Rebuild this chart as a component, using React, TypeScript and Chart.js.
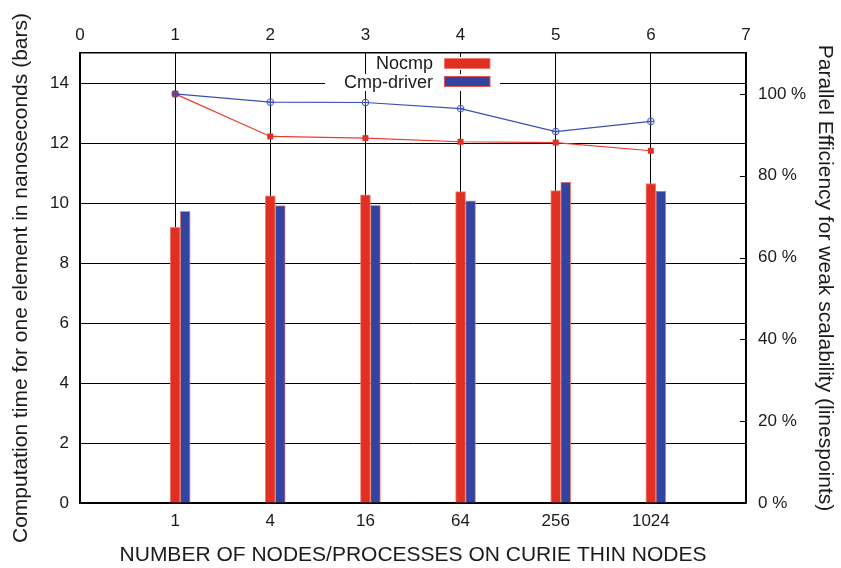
import React, { useEffect, useRef } from 'react';
import { Chart, registerables } from 'chart.js';

Chart.register(...registerables);

// ---- data ----
const categories = ['1', '4', '16', '64', '256', '1024'];
const nodeSlots = [1, 2, 3, 4, 5, 6];
const seriesNames = ['Nocmp', 'Cmp-driver'];
const nocmpTime = [9.19, 10.24, 10.27, 10.38, 10.41, 10.65];
const cmpDriverTime = [9.72, 9.91, 9.92, 10.07, 10.7, 10.4];
const nocmpEfficiency = [100, 89.6, 89.2, 88.3, 88.1, 86.1];
const cmpDriverEfficiency = [100, 98.0, 97.9, 96.4, 90.8, 93.3];

const FONT = "'Liberation Sans', Arial, Helvetica, sans-serif";
const RED = '#e03024';
const BLUE = '#3044a0';
const RED_LINE = '#ee3a2e';
const BLUE_LINE = '#3a4fb2';
const EDGE = 'rgba(240,120,110,0.9)';
const TXT = '#1a1a1a';

function makeCirclePlus(color: string) {
  const c = document.createElement('canvas');
  c.width = 9;
  c.height = 9;
  const g = c.getContext('2d')!;
  g.strokeStyle = color;
  g.lineWidth = 1;
  g.beginPath();
  g.arc(4.5, 4.5, 3.3, 0, Math.PI * 2);
  g.stroke();
  g.beginPath();
  g.moveTo(4.5, 1);
  g.lineTo(4.5, 8);
  g.moveTo(1, 4.5);
  g.lineTo(8, 4.5);
  g.stroke();
  return c;
}

const legendPlugin = {
  id: 'gnuKey',
  afterDraw(chart: any) {
    const ctx = chart.ctx;
    const { right } = chart.chartArea;
    ctx.save();
    // inward ticks on right axis
    ctx.strokeStyle = '#000';
    ctx.lineWidth = 1;
    const y2 = chart.scales.y2;
    for (let v = 0; v <= 100; v += 20) {
      const py = Math.round(y2.getPixelForValue(v)) + 0.5;
      ctx.beginPath();
      ctx.moveTo(right - 6, py);
      ctx.lineTo(right, py);
      ctx.stroke();
    }
    // key masks
    ctx.fillStyle = '#fff';
    ctx.fillRect(374, 57, 121, 13);
    ctx.fillRect(325, 74, 175, 17);
    // key text
    ctx.fillStyle = TXT;
    ctx.font = `18px ${FONT}`;
    ctx.textAlign = 'right';
    ctx.textBaseline = 'middle';
    ctx.fillText(seriesNames[0], 433, 64);
    ctx.fillText(seriesNames[1], 433, 83);
    // swatches
    ctx.fillStyle = RED;
    ctx.fillRect(444.5, 58.5, 45.5, 10);
    ctx.strokeStyle = EDGE;
    ctx.strokeRect(444.5, 58.5, 45.5, 10);
    ctx.fillStyle = BLUE;
    ctx.fillRect(444.5, 76.5, 45.5, 10);
    ctx.strokeStyle = '#e05050';
    ctx.strokeRect(444.5, 76.5, 45.5, 10);
    ctx.restore();
  },
};

export default function App() {
  const ref = useRef<HTMLCanvasElement | null>(null);

  useEffect(() => {
    if (!ref.current) return;
    const tickFont = { family: FONT, size: 17 };
    const titleFont = { family: FONT, size: 21 };
    const chart = new Chart(ref.current, {
      type: 'bar',
      data: {
        datasets: [
          {
            type: 'line',
            label: seriesNames[1] + ' eff',
            data: nodeSlots.map((x, i) => ({ x, y: cmpDriverEfficiency[i] })),
            xAxisID: 'x',
            yAxisID: 'y2',
            borderColor: BLUE_LINE,
            borderWidth: 1.2,
            pointStyle: makeCirclePlus(BLUE_LINE) as any,
            pointRadius: 4,
            tension: 0,
            fill: false,
            order: 0,
          } as any,
          {
            type: 'line',
            label: seriesNames[0] + ' eff',
            data: nodeSlots.map((x, i) => ({ x, y: nocmpEfficiency[i] })),
            xAxisID: 'x',
            yAxisID: 'y2',
            borderColor: RED_LINE,
            borderWidth: 1.2,
            pointStyle: 'rect',
            pointRadius: 4.2,
            pointBorderWidth: 0,
            pointBackgroundColor: RED,
            tension: 0,
            fill: false,
            order: 1,
          } as any,
          {
            type: 'bar',
            label: seriesNames[0],
            data: nodeSlots.map((x, i) => ({ x, y: nocmpTime[i] })),
            xAxisID: 'xb',
            yAxisID: 'y',
            backgroundColor: RED,
            borderColor: EDGE,
            borderWidth: 1,
            barThickness: 10,
            order: 2,
          } as any,
          {
            type: 'bar',
            label: seriesNames[1],
            data: nodeSlots.map((x, i) => ({ x, y: cmpDriverTime[i] })),
            xAxisID: 'xb',
            yAxisID: 'y',
            backgroundColor: BLUE,
            borderColor: EDGE,
            borderWidth: 1,
            barThickness: 10,
            order: 3,
          } as any,
        ],
      },
      options: {
        animation: false,
        responsive: true,
        maintainAspectRatio: false,
        layout: { padding: 0 },
        plugins: {
          legend: { display: false },
          tooltip: { enabled: false },
          title: { display: false },
        },
        scales: {
          x: {
            type: 'linear',
            position: 'bottom',
            min: 0,
            max: 7,
            offset: false,
            ticks: {
              stepSize: 1,
              autoSkip: false,
              maxRotation: 0,
              padding: 8,
              font: tickFont,
              color: TXT,
              callback: (v: any) => {
                const i = nodeSlots.indexOf(Number(v));
                return i >= 0 ? categories[i] : '';
              },
            },
            grid: { color: '#000', lineWidth: 1, drawTicks: false, offset: false },
            border: { color: '#000', width: 1.5 },
            title: {
              display: true,
              text: 'NUMBER OF NODES/PROCESSES ON CURIE THIN NODES',
              font: titleFont,
              color: TXT,
              padding: { top: 5, bottom: 0 },
            },
            afterFit: (s: any) => {
              s.height = 65;
            },
          },
          x2: {
            type: 'linear',
            position: 'top',
            min: 0,
            max: 7,
            offset: false,
            ticks: { stepSize: 1, padding: 7, font: tickFont, color: TXT, maxRotation: 0 },
            grid: { drawOnChartArea: false, drawTicks: false, offset: false },
            border: { color: '#000', width: 1.5 },
            afterFit: (s: any) => {
              s.height = 53;
            },
          },
          xb: {
            type: 'linear',
            display: false,
            min: -0.0526,
            max: 6.9474,
            offset: false,
            ticks: { stepSize: 1, includeBounds: false },
            grid: { offset: false },
          },
          y: {
            type: 'linear',
            position: 'left',
            min: 0,
            max: 15,
            ticks: { stepSize: 2, includeBounds: false, padding: 11, font: tickFont, color: TXT },
            grid: { color: '#000', lineWidth: 1, drawTicks: false },
            border: { color: '#000', width: 1.5 },
            title: {
              display: true,
              text: 'Computation time for one element in nanoseconds (bars)',
              font: titleFont,
              color: TXT,
              padding: { top: 9, bottom: 0 },
            },
            afterFit: (s: any) => {
              s.width = 80;
            },
          },
          y2: {
            type: 'linear',
            position: 'right',
            min: 0,
            max: 110,
            ticks: {
              stepSize: 20,
              includeBounds: false,
              padding: 12,
              font: tickFont,
              color: TXT,
              callback: (v: any) => `${v} %`,
            },
            grid: { drawOnChartArea: false, drawTicks: false },
            border: { color: '#000', width: 1.5 },
            title: {
              display: true,
              text: 'Parallel Efficiency for weak scalability (linespoints)',
              font: titleFont,
              color: TXT,
              padding: { top: 4, bottom: 0 },
            },
            afterFit: (s: any) => {
              s.width = 95;
            },
          },
        },
      } as any,
      plugins: [legendPlugin],
    });
    return () => chart.destroy();
  }, []);

  return (
    <div style={{ position: 'absolute', left: 0, top: 0, width: 841, height: 568, background: '#fff' }}>
      <canvas ref={ref} />
    </div>
  );
}
